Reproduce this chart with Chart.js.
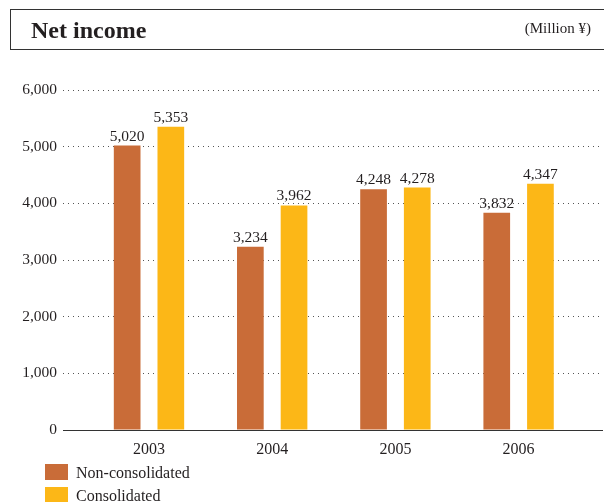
<!DOCTYPE html>
<html>
<head>
<meta charset="utf-8">
<script src="https://cdn.jsdelivr.net/npm/chart.js"></script>
<style>
  html, body { margin: 0; padding: 0; background: #fff; }
  body { width: 604px; height: 502px; position: relative; overflow: hidden; font-family: "Liberation Serif", "Times New Roman", serif; color: #231f20; }
  .title-box { position: absolute; left: 10px; top: 9px; width: 600px; height: 39px; border: 1px solid #333; border-right: none; box-sizing: content-box; }
  .title { position: absolute; left: 31px; top: 18px; font-size: 24px; font-weight: bold; line-height: 1; white-space: nowrap; }
  .unit { position: absolute; right: 13px; top: 21px; font-size: 15px; line-height: 1; white-space: nowrap; }
  #chart-wrap { position: absolute; left: 0; top: 0; width: 604px; height: 502px; }
  #legend { position: absolute; left: 45px; top: 464px; }
  .leg-row { position: relative; height: 23px; }
  .leg-box { position: absolute; left: 0; top: 0; width: 23px; height: 16px; }
  .leg-text { position: absolute; left: 31px; top: 0.5px; font-size: 16px; line-height: 1; white-space: nowrap; }
</style>
</head>
<body>
<div id="chart-wrap"><canvas id="grafico-lucro"></canvas></div>
<div class="title-box"></div>
<div class="title">Net income</div>
<div class="unit">(Million ¥)</div>
<div id="legend"></div>

<script>
// dados
const anos = [2003, 2004, 2005, 2006];
const naoConsolidado = [5020, 3234, 4248, 3832];
const consolidado = [5353, 3962, 4278, 4347];
const ticksY = [0, 1000, 2000, 3000, 4000, 5000, 6000];

const corLaranja = '#c96c38';
const corAmarela = '#fcb717';
const fonteSerif = '"Liberation Serif", "Times New Roman", serif';

// rótulos com o valor em cima de cada barra
const rotulosBarras = {
    id: 'rotulosBarras',
    afterDatasetsDraw(chart) {
        const ctx = chart.ctx;
        ctx.save();
        ctx.font = '15.5px ' + fonteSerif;
        ctx.fillStyle = '#231f20';
        ctx.textAlign = 'center';
        ctx.textBaseline = 'alphabetic';
        chart.data.datasets.forEach((ds, i) => {
            chart.getDatasetMeta(i).data.forEach((bar, j) => {
                ctx.fillText(ds.data[j].toLocaleString('en-US'), bar.x, bar.y - 5);
            });
        });
        ctx.restore();
    }
};

// legenda em HTML, uma linha por série
const legendaHtml = {
    id: 'legendaHtml',
    afterUpdate(chart) {
        const el = document.getElementById('legend');
        const itens = chart.options.plugins.legend.labels.generateLabels(chart);
        el.innerHTML = itens.map(it => `
            <div class="leg-row">
                <div class="leg-box" style="background:${it.fillStyle}"></div>
                <div class="leg-text">${it.text}</div>
            </div>`).join('');
    }
};

const ctx = document.getElementById('grafico-lucro').getContext('2d');

new Chart(ctx, {
    type: 'bar',
    data: {
        labels: anos,
        datasets: [
            { label: 'Non-consolidated', data: naoConsolidado, backgroundColor: corLaranja },
            { label: 'Consolidated', data: consolidado, backgroundColor: corAmarela }
        ]
    },
    options: {
        responsive: true,
        maintainAspectRatio: false,
        animation: false,
        categoryPercentage: 0.709,
        barPercentage: 0.611,
        layout: { padding: { top: 90, right: 2, bottom: 42, left: 0 } },
        scales: {
            x: {
                type: 'linear',
                min: 2002.302,
                max: 2006.677,
                offset: false,
                grid: { display: false, drawTicks: false },
                border: { display: true, color: '#333', width: 1 },
                afterBuildTicks: s => { s.ticks = anos.map(v => ({ value: v })); },
                afterFit: s => { s.height = 30; },
                ticks: {
                    color: '#231f20',
                    font: { family: fonteSerif, size: 16 },
                    padding: 10,
                    callback: v => String(v)
                }
            },
            y: {
                min: 0,
                max: 6000,
                afterBuildTicks: s => { s.ticks = ticksY.map(v => ({ value: v })); },
                afterFit: s => { s.width = 63; },
                grid: { color: '#555', lineWidth: 1, drawTicks: false },
                border: { display: false, dash: [1, 4] },
                ticks: {
                    color: '#231f20',
                    font: { family: fonteSerif, size: 15.5 },
                    padding: 6,
                    callback: v => v.toLocaleString('en-US')
                }
            }
        },
        plugins: {
            legend: { display: false },
            tooltip: { enabled: false }
        }
    },
    plugins: [rotulosBarras, legendaHtml]
});
</script>
</body>
</html>
